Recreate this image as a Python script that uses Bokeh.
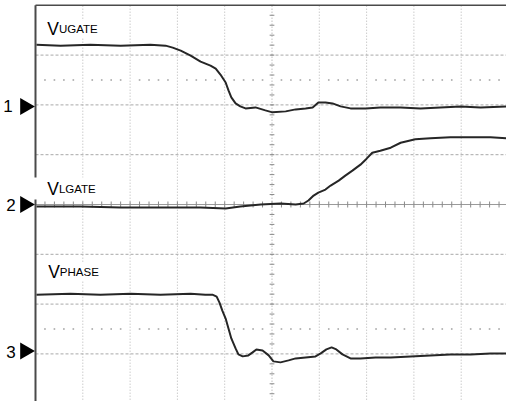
import numpy as np
from bokeh.plotting import figure
from bokeh.models import Range1d
from bokeh.core.properties import value
from bokeh.embed import file_html
from bokeh.resources import INLINE

# ---- data (time and level in screen divisions; level 0 = centre line) ----
ugate_t = [0.02, 0.53, 1.16, 1.80, 2.43, 2.75, 2.90, 3.07, 3.28, 3.49, 3.70, 3.81,
           3.91, 4.02, 4.08, 4.14, 4.23, 4.33, 4.44, 4.65, 4.86, 5.01, 5.29, 5.50,
           5.71, 5.86, 5.98, 6.13, 6.28, 6.45, 6.66, 6.98, 7.29, 7.72, 8.14, 8.56,
           8.99, 9.41, 9.96]
ugate_v = [3.21, 3.19, 3.21, 3.19, 3.21, 3.19, 3.15, 3.09, 2.99, 2.87, 2.79, 2.73,
           2.61, 2.45, 2.29, 2.15, 2.03, 1.97, 1.93, 1.95, 1.89, 1.85, 1.87, 1.91,
           1.93, 1.95, 2.05, 2.05, 2.03, 1.97, 1.93, 1.93, 1.95, 1.95, 1.93, 1.95,
           1.97, 1.95, 1.97]

lgate_t = [0.02, 0.95, 1.80, 2.64, 3.49, 4.02, 4.33, 4.76, 5.18, 5.50, 5.67, 5.77,
           5.88, 5.98, 6.13, 6.24, 6.41, 6.55, 6.70, 6.87, 7.00, 7.12, 7.29, 7.51,
           7.72, 8.03, 8.35, 8.77, 9.20, 9.62, 9.96]
lgate_v = [-0.04, -0.04, -0.06, -0.06, -0.06, -0.08, -0.04, 0.00, 0.02, 0.00, 0.02, 0.08,
           0.18, 0.24, 0.30, 0.38, 0.48, 0.58, 0.68, 0.80, 0.92, 1.04, 1.08, 1.14,
           1.24, 1.31, 1.33, 1.35, 1.35, 1.35, 1.33]

phase_t = [0.02, 0.74, 1.37, 2.01, 2.64, 3.28, 3.59, 3.74, 3.83, 3.89, 3.95, 4.02,
           4.08, 4.14, 4.23, 4.29, 4.38, 4.50, 4.59, 4.67, 4.80, 4.93, 5.03, 5.18,
           5.35, 5.50, 5.71, 5.92, 6.03, 6.15, 6.26, 6.36, 6.49, 6.66, 6.87, 7.19,
           7.51, 7.93, 8.35, 8.77, 9.20, 9.62, 9.96]
phase_v = [-1.81, -1.79, -1.81, -1.79, -1.81, -1.79, -1.81, -1.81, -1.85, -1.97, -2.13, -2.29,
           -2.49, -2.69, -2.89, -3.01, -3.05, -3.03, -2.97, -2.91, -2.93, -3.03, -3.15, -3.17,
           -3.13, -3.09, -3.07, -3.05, -2.99, -2.91, -2.87, -2.91, -3.01, -3.09, -3.09, -3.07,
           -3.07, -3.05, -3.03, -3.01, -3.01, -2.99, -2.99]

channel_names = ["1", "2", "3"]
channel_levels = [2.0, 0.0, -3.0]
label_main = ["V", "V", "V"]
label_sub = ["UGATE", "LGATE", "PHASE"]

# ---- layout (positions, not data) ----
PX_X, PX_Y = 47.3, 49.8
label_x = [0.25, 0.25, 0.27]
label_y = [3.52, 0.31, -1.36]
sub_dx = 0.245

p = figure(width=506, height=401, output_backend="svg", toolbar_location=None,
           x_range=Range1d(-35 / PX_X, 471 / PX_X), y_range=Range1d(-197 / PX_Y, 204 / PX_Y),
           x_axis_location=None, y_axis_location=None, min_border=0)
p.grid.visible = False
p.outline_line_color = None
p.background_fill_color = "white"
p.border_fill_color = "white"

TOP, BOT = 4.0, -4.1

# graticule
vx = [1, 2, 3, 4, 6, 7, 8, 9]
p.segment(x0=vx, y0=[BOT] * len(vx), x1=vx, y1=[TOP] * len(vx),
          line_color="#b4b4b4", line_width=1, line_dash="1 2")
hy = [3, 2, 1, -1, -2, -3]
p.segment(x0=[0] * len(hy), y0=hy, x1=[10.2] * len(hy), y1=hy,
          line_color="#a8a8a8", line_width=1, line_dash="3 2")
dots_x = [k * 0.2 for k in range(1, 51) if k % 5 != 0]
p.scatter(dots_x + dots_x, [2.5] * len(dots_x) + [-2.5] * len(dots_x),
          marker="square", size=1.6, color="#a0a0a0", line_color=None)
# centre cross with ticks
p.segment(x0=[5], y0=[BOT], x1=[5], y1=[TOP], line_color="#a0a0a0", line_width=1, line_dash="1 2")
p.segment(x0=[0], y0=[0], x1=[10.2], y1=[0], line_color="#9a9a9a", line_width=1)
ty = [k * 0.2 for k in range(-20, 21) if k != 0]
p.segment(x0=[4.95] * len(ty), y0=ty, x1=[5.05] * len(ty), y1=ty, line_color="#8a8a8a", line_width=1)
tx = [k * 0.2 for k in range(1, 51)]
p.segment(x0=tx, y0=[-0.06] * len(tx), x1=tx, y1=[0.06] * len(tx), line_color="#8a8a8a", line_width=1)

# label backgrounds
p.quad(left=[0.15, -0.1, 0.15], right=[1.5, 1.5, 1.5],
       bottom=[3.36, 0.10, -1.52], top=[3.70, 0.54, -1.17],
       fill_color="white", line_color=None)

# traces
for t, v in [(ugate_t, ugate_v), (lgate_t, lgate_v), (phase_t, phase_v)]:
    p.line(t, v, line_color="#262626", line_width=2.0)

# frame borders
p.segment(x0=[0], y0=[BOT], x1=[0], y1=[0.10], line_color="#4a4a4a", line_width=2)
p.segment(x0=[0], y0=[0.54], x1=[0], y1=[TOP], line_color="#4a4a4a", line_width=2)
p.segment(x0=[0], y0=[TOP], x1=[10.2], y1=[TOP], line_color="#4a4a4a", line_width=1.6)

# channel markers
FONT = value("Liberation Sans")
p.text(x=[-0.68, -0.62, -0.62], y=[lv - 0.02, lv - 0.02, lv + 0.03] if False else
       [channel_levels[0] - 0.02, channel_levels[1] - 0.02, channel_levels[2] + 0.04],
       text=channel_names, text_font=FONT, text_font_size="17px",
       text_baseline="alphabetic", text_color="black")
p.scatter(x=[-0.22] * 3, y=[channel_levels[0] - 0.03, channel_levels[1], channel_levels[2] + 0.06],
          marker="triangle", size=17, angle=-np.pi / 2, color="black", line_color=None)

# trace labels
p.text(x=label_x, y=label_y, text=label_main, text_font=FONT, text_font_size="17.5px",
       text_baseline="alphabetic", text_color="black")
p.text(x=[lx + sub_dx for lx in label_x], y=label_y, text=label_sub, text_font=FONT,
       text_font_size="11.5px", text_baseline="alphabetic", text_color="black")

open("out.html", "w").write(file_html(p, INLINE))
